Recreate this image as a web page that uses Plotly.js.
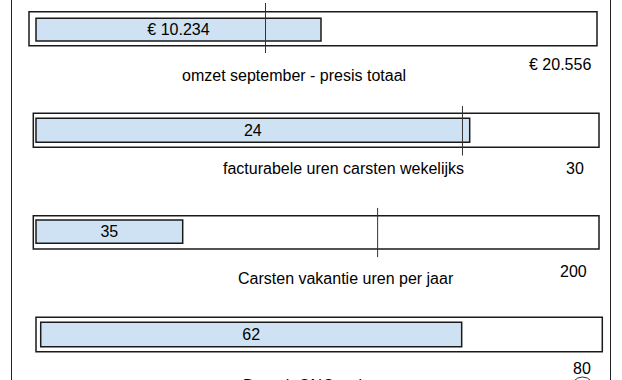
<!DOCTYPE html>
<html>
<head>
<meta charset="utf-8">
<script src="https://cdn.plot.ly/plotly-3.0.1.min.js"></script>
<style>
html,body{margin:0;padding:0;background:#fff;}
#chart{width:622px;height:380px;}
</style>
</head>
<body>
<div id="chart"></div>
<script>
// ---- data ----
const titles = ['omzet september - presis totaal', 'facturabele uren carsten wekelijks', 'Carsten vakantie uren per jaar', 'DomeinONC webapp'];
const values = [10234, 24, 35, 62];
const valueLabels = ['€ 10.234', '24', '35', '62'];
const targets = [20556, 30, 200, 80];
const targetLabels = ['€ 20.556', '30', '200', '80'];
const markers = [8241, 23.6, 81.5, null];

// ---- layout geometry (pixels) ----
const W = 622, H = 380;
const px = x => x / W;
const py = y => 1 - y / H;
const FONT = 'Liberation Sans, Arial, sans-serif';

// L/R/T/B: outer frame; DT/DB: plot area (covers marker line); yr: y range over that area
const panels = [
  {L: 29,   R: 597,   T: 11.7,  B: 45.7,  DT: 3,     DB: 53,    xr: [-251.4, 20145], yr: [-1.029, 1.174], my: [-1.029, 1.174],
   title: {x: 294, y: 75}, tgt: {x: 593, y: 65, anchor: 'right'}},
  {L: 33.3, R: 599,   T: 113.3, B: 147.3, DT: 106,   DB: 155.7, xr: [-0.149, 31.155], yr: [-1.058, 1.0125], my: [-1.058, 1.0125],
   title: {x: 343, y: 168}, tgt: {x: 575, y: 168, anchor: 'center'}},
  {L: 33.3, R: 599,   T: 215.7, B: 249,   DT: 207.7, DB: 257.3, xr: [-0.644, 134.32], yr: [-1.10, 1.028], my: [-1.10, 1.028],
   title: {x: 346, y: 278}, tgt: {x: 573, y: 271, anchor: 'center'}},
  {L: 36,   R: 602.3, T: 317.3, B: 351.7, DT: 317.3, DB: 351.7, xr: [-0.692, 82.71], yr: [-0.705, 0.705], my: null,
   title: {x: 318, y: 385}, tgt: {x: 582, y: 368, anchor: 'center'}}
];

const traces = [];
const layout = {
  width: W, height: H,
  margin: {l: 0, r: 0, t: 0, b: 0},
  paper_bgcolor: '#ffffff', plot_bgcolor: 'rgba(0,0,0,0)',
  showlegend: false,
  font: {family: FONT, size: 16, color: '#000'},
  shapes: [
    {type: 'line', xref: 'paper', yref: 'paper', x0: px(11.5), x1: px(11.5), y0: 0, y1: 1, line: {color: '#222', width: 1}},
    {type: 'line', xref: 'paper', yref: 'paper', x0: px(610.5), x1: px(610.5), y0: 0, y1: 1, line: {color: '#222', width: 1}},
    {type: 'circle', xref: 'paper', yref: 'paper', x0: px(570), x1: px(595), y0: py(405), y1: py(377), line: {color: '#333', width: 1}}
  ],
  annotations: []
};

panels.forEach((p, i) => {
  const n = i === 0 ? '' : String(i + 1);
  const xa = 'x' + n, ya = 'y' + n;
  layout['xaxis' + n] = {domain: [px(p.L), px(p.R)], range: p.xr, visible: false, fixedrange: true, anchor: ya};
  layout['yaxis' + n] = {domain: [py(p.DB), py(p.DT)], range: p.yr, visible: false, fixedrange: true, anchor: xa};

  // outer frame
  layout.shapes.push({type: 'rect', xref: 'paper', yref: 'paper', x0: px(p.L), x1: px(p.R), y0: py(p.B), y1: py(p.T),
    line: {color: '#1a1a1a', width: 1.5}, fillcolor: 'rgba(0,0,0,0)', layer: 'below'});

  // value bar
  traces.push({
    type: 'bar', orientation: 'h', x: [values[i]], y: [0], base: 0, width: 1,
    xaxis: xa, yaxis: ya,
    marker: {color: '#cfe2f3', line: {color: '#1a1a1a', width: 1.5}},
    text: [valueLabels[i]], textposition: 'inside', insidetextanchor: 'middle',
    textfont: {family: FONT, size: 16, color: '#000'}, constraintext: 'none',
    hoverinfo: 'skip', cliponaxis: false
  });

  // marker line
  if (markers[i] !== null) {
    traces.push({
      type: 'scatter', mode: 'lines', x: [markers[i], markers[i]], y: p.my,
      xaxis: xa, yaxis: ya, line: {color: '#333', width: 1}, hoverinfo: 'skip', cliponaxis: false
    });
  }

  layout.annotations.push({
    xref: 'paper', yref: 'paper', x: px(p.title.x), y: py(p.title.y), xanchor: 'center', yanchor: 'middle',
    text: titles[i], showarrow: false, font: {family: FONT, size: 16, color: '#000'}
  });
  layout.annotations.push({
    xref: 'paper', yref: 'paper', x: px(p.tgt.x), y: py(p.tgt.y), xanchor: p.tgt.anchor, yanchor: 'middle',
    text: targetLabels[i], showarrow: false, font: {family: FONT, size: 16, color: '#000'}
  });
});

Plotly.newPlot('chart', traces, layout, {displayModeBar: false, staticPlot: true});
</script>
</body>
</html>
